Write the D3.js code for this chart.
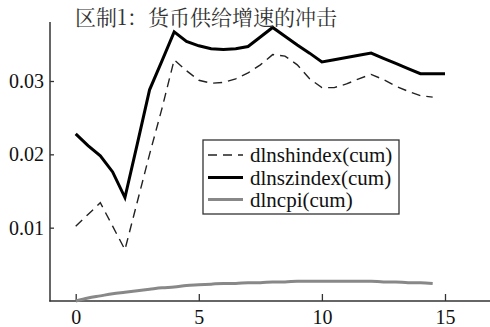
<!DOCTYPE html>
<html>
<head>
<meta charset="utf-8">
<script src="https://cdn.jsdelivr.net/npm/d3@7/dist/d3.min.js"></script>
<style>
  html, body { margin: 0; padding: 0; background: #fff; }
  svg { display: block; }
</style>
</head>
<body>
<svg id="chart" width="490" height="327"></svg>
<script>
// Cumulative impulse responses, regime 1 (half-period resolution)
const title = "区制1：货币供给增速的冲击";
const halfSteps = d3.range(0, 15.01, 0.5);
const shIndex = [0.0102, 0.0118, 0.0134, 0.0102, 0.0070, 0.0135, 0.0200, 0.0262, 0.0329, 0.0314,
                 0.0301, 0.0297, 0.0298, 0.0303, 0.0311, 0.0322, 0.0336, 0.0334, 0.0322, 0.0303,
                 0.0291, 0.0291, 0.0296, 0.0303, 0.0309, 0.0302, 0.0293, 0.0286, 0.0280, 0.0278];
const szIndex = [0.0228, 0.0212, 0.0198, 0.0176, 0.0141, 0.0214, 0.0288, 0.0327, 0.0367, 0.0354,
                 0.0348, 0.0344, 0.0343, 0.0344, 0.0347, 0.0360, 0.0373, 0.0361, 0.0349, 0.0338,
                 0.0326, 0.0329, 0.0332, 0.0335, 0.0338, 0.0331, 0.0324, 0.0317, 0.0310, 0.0310, 0.0310];
const cpi = [0.0000, 0.0004, 0.0007, 0.0010, 0.0012, 0.0014, 0.0016, 0.0018, 0.0019, 0.0021,
             0.0022, 0.0023, 0.0024, 0.0024, 0.0025, 0.0025, 0.0026, 0.0026, 0.0027, 0.0027,
             0.0027, 0.0027, 0.0027, 0.0027, 0.0027, 0.0026, 0.0026, 0.0025, 0.0025, 0.0024];
const seriesNames = ["dlnshindex(cum)", "dlnszindex(cum)", "dlncpi(cum)"];
const xTicks = [0, 5, 10, 15];
const yTicks = [0.01, 0.02, 0.03];

const svg = d3.select("#chart");
const serif = "'Liberation Serif', 'Times New Roman', serif";

const x = d3.scaleLinear().domain([0, 15]).range([75.7, 445]);
const y = d3.scaleLinear().domain([0, 0.03]).range([301, 81]);

const axisColor = "#333";

// Axes: left spine and bottom spine with inward ticks
const gx = svg.append("g").attr("transform", "translate(0,301)")
  .call(d3.axisBottom(x).tickValues(xTicks).tickSize(-7).tickPadding(12).tickFormat(d3.format("d")));
gx.select(".domain").remove();
gx.selectAll(".tick line").attr("stroke", axisColor).attr("stroke-width", 1.3);
gx.selectAll(".tick text").style("font-family", serif).style("font-size", "20px").attr("fill", "#111")
  .attr("dy", "0.55em");

const gy = svg.append("g").attr("transform", "translate(50,0)")
  .call(d3.axisLeft(y).tickValues(yTicks).tickSize(-4).tickPadding(6).tickFormat(d3.format(".2f")));
gy.select(".domain").remove();
gy.selectAll(".tick line").attr("stroke", axisColor).attr("stroke-width", 1.3);
gy.selectAll(".tick text").style("font-family", serif).style("font-size", "20px").attr("fill", "#111");

svg.append("line").attr("x1", 50).attr("x2", 50).attr("y1", 22).attr("y2", 301.5)
  .attr("stroke", axisColor).attr("stroke-width", 1.5);
svg.append("line").attr("x1", 49.3).attr("x2", 490).attr("y1", 301).attr("y2", 301)
  .attr("stroke", axisColor).attr("stroke-width", 1.5);

// Series lines
const line = (curve) => d3.line().x((d, i) => x(halfSteps[i])).y(d => y(d)).curve(curve);

svg.append("path").datum(cpi)
  .attr("d", line(d3.curveMonotoneX))
  .attr("fill", "none").attr("stroke", "#888").attr("stroke-width", 3);

svg.append("path").datum(shIndex)
  .attr("d", line(d3.curveLinear))
  .attr("fill", "none").attr("stroke", "#222").attr("stroke-width", 1.4)
  .attr("stroke-dasharray", "9,6");

svg.append("path").datum(szIndex)
  .attr("d", line(d3.curveLinear))
  .attr("fill", "none").attr("stroke", "#000").attr("stroke-width", 3)
  .attr("stroke-linejoin", "miter");

// Title
svg.append("text").attr("x", 75).attr("y", 25)
  .style("font-family", "'Noto Serif CJK SC', serif").style("font-size", "21px")
  .attr("fill", "#333").text(title);

// Legend
const legend = svg.append("g");
legend.append("rect").attr("x", 203).attr("y", 140).attr("width", 196).attr("height", 74)
  .attr("fill", "#fff").attr("stroke", "#333").attr("stroke-width", 1.3);
const legendStyles = [
  { stroke: "#222", width: 1.4, dash: "9,6" },
  { stroke: "#000", width: 3, dash: null },
  { stroke: "#888", width: 3, dash: null }
];
const rowY = [155, 177.5, 199.5];
seriesNames.forEach((name, i) => {
  const s = legendStyles[i];
  legend.append("line").attr("x1", 208).attr("x2", 243).attr("y1", rowY[i]).attr("y2", rowY[i])
    .attr("stroke", s.stroke).attr("stroke-width", s.width)
    .attr("stroke-dasharray", s.dash);
  legend.append("text").attr("x", 250).attr("y", rowY[i]).attr("dy", "0.35em")
    .style("font-family", serif).style("font-size", "21px").attr("fill", "#111").text(name);
});
</script>
</body>
</html>
